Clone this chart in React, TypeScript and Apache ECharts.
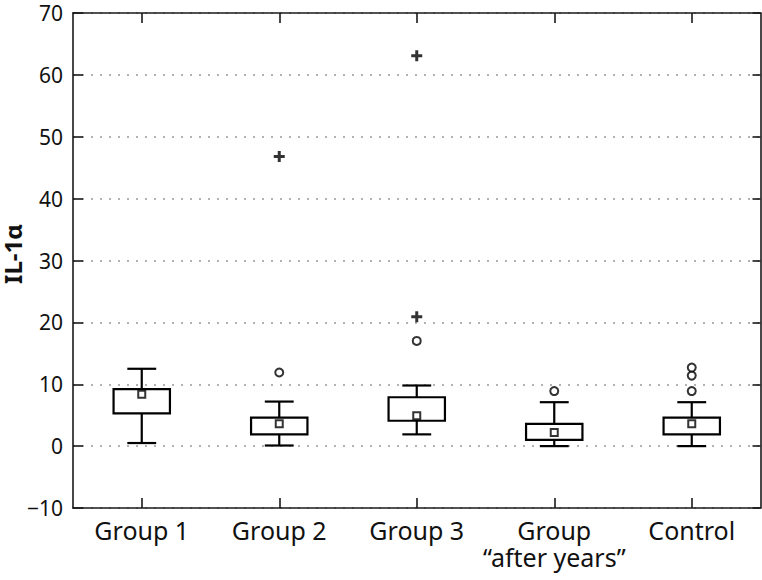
import React, { useEffect, useRef } from "react";
import * as echarts from "echarts";

const categories = ["Group 1", "Group 2", "Group 3", "Group\n“after years”", "Control"];
const whiskerLow = [0.5, 0.1, 1.9, 0.0, 0.0];
const quartile1 = [5.3, 1.9, 4.1, 1.0, 1.9];
const quartile3 = [9.2, 4.6, 7.9, 3.6, 4.6];
const whiskerHigh = [12.5, 7.2, 9.8, 7.1, 7.1];
const means = [8.4, 3.6, 4.9, 2.2, 3.6];
const outliers: [number, number][] = [
  [1, 11.9],
  [2, 17.0],
  [3, 8.9],
  [4, 8.9],
  [4, 11.4],
  [4, 12.7],
];
const extremes: [number, number][] = [
  [1, 46.8],
  [2, 20.9],
  [2, 63.1],
];
const yTicks = { min: -10, max: 70, interval: 10 };
const yName = "IL-1α";

const FONT = "Noto Sans";
const PLUS = "path://M4,0H7V4H11V7H7V11H4V7H0V4H4Z";

export default function App() {
  const ref = useRef<HTMLDivElement>(null);
  useEffect(() => {
    if (!ref.current) return;
    const chart = echarts.init(ref.current, null, { renderer: "svg" });
    const boxData = categories.map((_, i) => [i, whiskerLow[i], quartile1[i], quartile3[i], whiskerHigh[i]]);
    const axisLine = { show: true, onZero: false, lineStyle: { color: "#1a1a1a", width: 1.6 } };
    const tickStyle = { color: "#1a1a1a", width: 1.6 };
    const fmt = (v: number) => (v < 0 ? "−" + Math.abs(v) : String(v));
    chart.setOption({
      animation: false,
      backgroundColor: "#fff",
      grid: { left: 73, right: 1.5, top: 13, bottom: 72, containLabel: false, outerBoundsMode: "none" },
      graphic: [
        {
          type: "text",
          x: 12,
          y: 254,
          rotation: Math.PI / 2,
          style: {
            text: yName,
            fill: "#111",
            font: `bold 24px "${FONT}"`,
            lineHeight: 20,
            align: "center",
            verticalAlign: "middle",
          },
        },
      ],
      xAxis: [
        {
          type: "category",
          data: categories,
          position: "bottom",
          boundaryGap: true,
          axisLine,
          axisTick: { show: true, inside: true, length: 10, alignWithLabel: true, lineStyle: tickStyle },
          axisLabel: { color: "#111", fontFamily: FONT, fontSize: 25, lineHeight: 27, margin: 8, interval: 0 },
          splitLine: { show: false },
        },
        {
          type: "category",
          data: categories,
          position: "top",
          boundaryGap: true,
          axisLine,
          axisTick: { show: true, inside: true, length: 10, alignWithLabel: true, lineStyle: tickStyle },
          axisLabel: { show: false },
          splitLine: { show: false },
        },
      ],
      yAxis: [
        {
          type: "value",
          ...yTicks,
          position: "left",
          axisLine,
          axisTick: { show: true, inside: true, length: 10, lineStyle: tickStyle },
          axisLabel: { color: "#111", fontFamily: FONT, fontSize: 21, margin: 10, formatter: fmt },
          splitLine: { show: true, lineStyle: { color: "#999", width: 1.5, type: [2, 7] } },
        },
        {
          type: "value",
          ...yTicks,
          position: "right",
          axisLine,
          axisTick: { show: true, inside: true, length: 8, lineStyle: tickStyle },
          axisLabel: { show: false },
          splitLine: { show: false },
        },
      ],
      series: [
        {
          type: "custom",
          xAxisIndex: 0,
          yAxisIndex: 0,
          data: boxData,
          encode: { x: 0, y: [1, 2, 3, 4] },
          z: 2,
          renderItem: (params: any, api: any) => {
            const idx = api.value(0);
            const lo = api.coord([idx, api.value(1)]);
            const q1 = api.coord([idx, api.value(2)]);
            const q3 = api.coord([idx, api.value(3)]);
            const hi = api.coord([idx, api.value(4)]);
            const band = api.size([1, 0])[0];
            const bw = band * 0.41;
            const cw = band * 0.21;
            const cx = lo[0];
            const st = { stroke: "#000", lineWidth: 2.2, fill: "none" };
            return {
              type: "group",
              children: [
                { type: "line", shape: { x1: cx, y1: lo[1], x2: cx, y2: q1[1] }, style: st },
                { type: "line", shape: { x1: cx, y1: q3[1], x2: cx, y2: hi[1] }, style: st },
                { type: "line", shape: { x1: cx - cw / 2, y1: lo[1], x2: cx + cw / 2, y2: lo[1] }, style: st },
                { type: "line", shape: { x1: cx - cw / 2, y1: hi[1], x2: cx + cw / 2, y2: hi[1] }, style: st },
                {
                  type: "rect",
                  shape: { x: cx - bw / 2, y: q3[1], width: bw, height: q1[1] - q3[1] },
                  style: { stroke: "#000", lineWidth: 2.2, fill: "#fff" },
                },
              ],
            };
          },
        },
        {
          type: "scatter",
          data: means.map((m, i) => [i, m]),
          symbol: "rect",
          symbolSize: 7,
          itemStyle: { color: "#fff", borderColor: "#000", borderWidth: 2 },
          z: 5,
        },
        {
          type: "scatter",
          data: outliers,
          symbol: "circle",
          symbolSize: 8,
          itemStyle: { color: "#fff", borderColor: "#000", borderWidth: 2 },
          z: 5,
        },
        {
          type: "scatter",
          data: extremes,
          symbol: PLUS,
          symbolSize: 11,
          itemStyle: { color: "#000" },
          z: 5,
        },
      ],
    });
    return () => chart.dispose();
  }, []);
  return <div ref={ref} style={{ position: "fixed", left: 0, top: 0, width: 762, height: 580 }} />;
}
